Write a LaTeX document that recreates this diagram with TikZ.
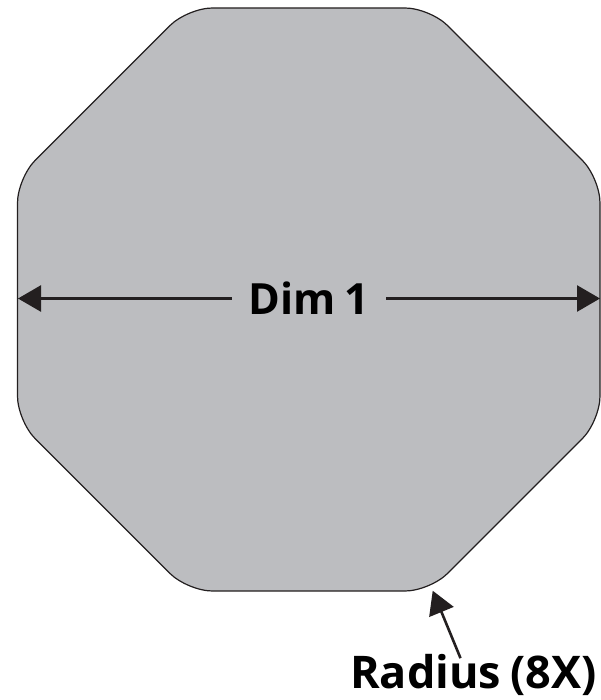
\documentclass[tikz,border=0pt]{standalone}
\usepackage{fontspec}
\setmainfont[WordSpace=0.8]{Open Sans}
\usetikzlibrary{arrows.meta,calc}
\definecolor{platefill}{HTML}{BCBDC0}
\definecolor{inkdark}{HTML}{231F20}
\tikzset{
  plate/.style={fill=platefill,draw=inkdark,line width=1.2pt,rounded corners=25pt},
  arr/.style={draw=inkdark,line width=2.6pt,-{Triangle[length=23pt,width=26pt]},shorten >=0pt},
  lbl/.style={font=\fontsize{45}{50}\selectfont\bfseries,text=black,inner sep=0pt,anchor=center}
}
\begin{document}
\begin{tikzpicture}[x=1pt,y=-1pt]
\useasboundingbox (0,0) rectangle (601,700);
\draw[plate] (187.5,8) -- (430,8) -- (600,178) -- (600,421) -- (430,591) -- (187.5,591) -- (17.5,421) -- (17.5,178) -- cycle;
\coordinate (lefttip) at (18,298.5);
\coordinate (righttip) at (600,298.5);
\coordinate (radtip) at (432.7,590.7);
\node[lbl,minimum width=154pt,minimum height=40pt] (dim) at (309,298.5) {\fontsize{43}{50}\selectfont Dim 1};
\node[lbl,minimum height=40pt] (radius) at (473.5,675) {Radius (8X)};
\draw[arr] (dim.west) -- (lefttip);
\draw[arr] (dim.east) -- (righttip);
\draw[arr] ($(radius.north)+(-13,4)$) -- (radtip);
\end{tikzpicture}
\end{document}
